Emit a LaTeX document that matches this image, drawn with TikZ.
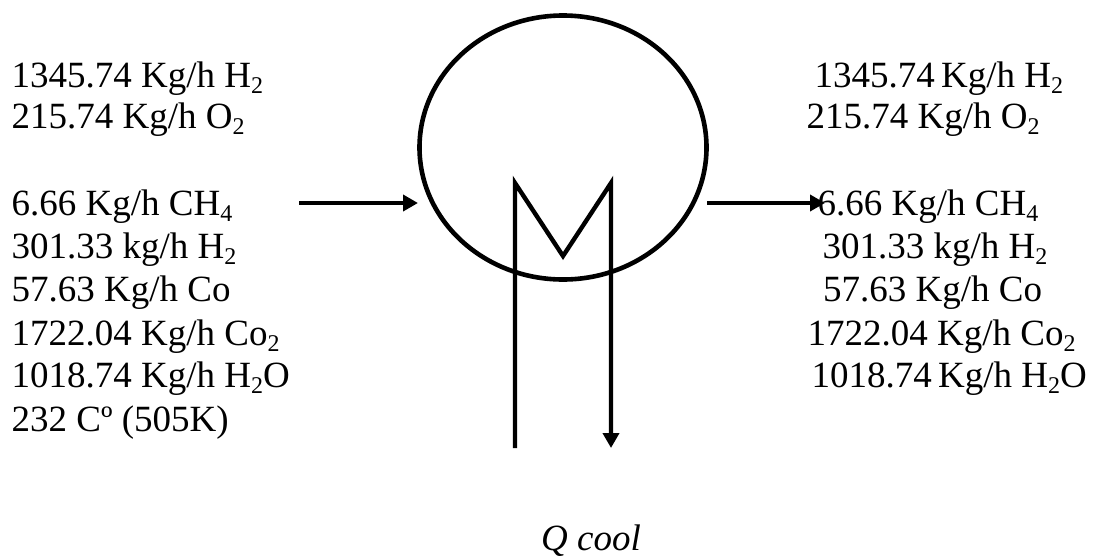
\documentclass[tikz,border=0pt]{standalone}
\usepackage{fontspec}
\setmainfont{Liberation Serif}
\usetikzlibrary{arrows.meta,shapes.geometric}
\tikzset{lbl/.style={anchor=base west,inner sep=0pt,font=\fontsize{37pt}{40pt}\selectfont},
ln/.style={line width=4.4pt},
arr/.style={ln,-{Triangle[length=15pt,width=16pt]}}}
\newcommand{\sbs}[1]{\raisebox{-0.18em}{\fontsize{24pt}{24pt}\selectfont #1}}
\begin{document}
\begin{tikzpicture}[x=1pt,y=-1pt]
\useasboundingbox (0,0) rectangle (1094,558);
\fill[white] (0,0) rectangle (1094,558);
\node[lbl] (a1) at (11.5,87) {1345.74 Kg/h H\sbs{2}};
\node[lbl] (a2) at (11.5,128) {215.74 Kg/h O\sbs{2}};
\node[lbl] (a3) at (11.5,215) {6.66 Kg/h CH\sbs{4}};
\node[lbl] (a4) at (11.5,258) {301.33 kg/h H\sbs{2}};
\node[lbl] (a5) at (11.5,301) {57.63 Kg/h Co};
\node[lbl] (a6) at (11.5,345) {1722.04 Kg/h Co\sbs{2}};
\node[lbl] (a7) at (11.5,387) {1018.74 Kg/h H\sbs{2}O};
\node[lbl] (a8) at (11.5,431) {232 Cº (505K)};
\node[lbl] (b1) at (814.5,87) {1345.74 \hspace{-3pt}Kg/h H\sbs{2}};
\node[lbl] (b2) at (806.5,128) {215.74 Kg/h O\sbs{2}};
\node[lbl] (b3) at (817.5,215) {6.66 Kg/h CH\sbs{4}};
\node[lbl] (b4) at (822.5,258) {301.33 kg/h H\sbs{2}};
\node[lbl] (b5) at (823,301) {57.63 Kg/h Co};
\node[lbl] (b6) at (807.5,345) {1722.04 Kg/h Co\sbs{2}};
\node[lbl] (b7) at (811.5,387) {1018.74 \hspace{-3pt}Kg/h H\sbs{2}O};
\node[lbl,font=\fontsize{37pt}{40pt}\selectfont\itshape] (q) at (541,550) {Q cool};
\node[ellipse,draw,line width=4.6pt,minimum width=287pt,minimum height=264pt,inner sep=0pt] (c) at (563,147.5) {};
\coordinate (i0) at (299,203); \coordinate (i1) at (418,203);
\coordinate (o0) at (707,203); \coordinate (o1) at (825,203);
\draw[arr] (i0)--(i1);
\draw[arr] (o0)--(o1);
\coordinate (h0) at (515,448); \coordinate (h1) at (515,183); \coordinate (h2) at (563,256); \coordinate (h3) at (611,183); \coordinate (h4) at (611,448);
\draw[arr,line join=miter] (h0)--(h1)--(h2)--(h3)--(h4);
\end{tikzpicture}
\end{document}
